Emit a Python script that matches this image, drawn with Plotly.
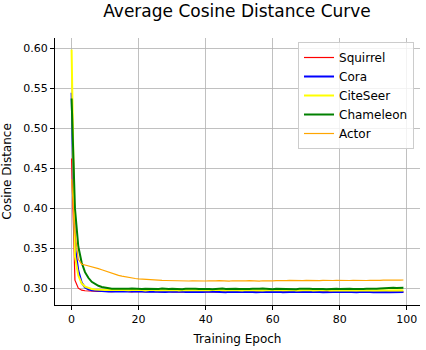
import plotly.graph_objects as go

epochs = list(range(100))

squirrel = [0.462, 0.310, 0.300, 0.2975, 0.2968, 0.2965, 0.2962, 0.2966, 0.2960, 0.2963,
            0.2958, 0.2961, 0.2957, 0.2960, 0.2956, 0.2959, 0.2962, 0.2957, 0.2955, 0.2960,
            0.2958, 0.2954, 0.2959, 0.2956, 0.2961, 0.2955, 0.2958, 0.2953, 0.2957, 0.2960,
            0.2954, 0.2956, 0.2952, 0.2958, 0.2955, 0.2953, 0.2957, 0.2954, 0.2959, 0.2952,
            0.2956, 0.2953, 0.2957, 0.2951, 0.2955, 0.2958, 0.2952, 0.2956, 0.2954, 0.2950,
            0.2955, 0.2957, 0.2952, 0.2954, 0.2951, 0.2956, 0.2953, 0.2958, 0.2951, 0.2954,
            0.2952, 0.2956, 0.2950, 0.2955, 0.2953, 0.2951, 0.2957, 0.2952, 0.2954, 0.2950,
            0.2955, 0.2952, 0.2956, 0.2951, 0.2953, 0.2949, 0.2954, 0.2952, 0.2956, 0.2950,
            0.2953, 0.2951, 0.2955, 0.2949, 0.2952, 0.2954, 0.2950, 0.2953, 0.2951, 0.2955,
            0.2950, 0.2952, 0.2949, 0.2953, 0.2951, 0.2954, 0.2950, 0.2952, 0.2951, 0.2952]

cora = [0.544, 0.352, 0.322, 0.307, 0.301, 0.2985, 0.2975, 0.2970, 0.2968, 0.2965,
        0.2963, 0.2960, 0.2964, 0.2959, 0.2961, 0.2957, 0.2960, 0.2962, 0.2956, 0.2959,
        0.2961, 0.2957, 0.2955, 0.2960, 0.2958, 0.2954, 0.2957, 0.2959, 0.2953, 0.2956,
        0.2958, 0.2952, 0.2955, 0.2957, 0.2951, 0.2956, 0.2954, 0.2952, 0.2957, 0.2953,
        0.2955, 0.2951, 0.2954, 0.2956, 0.2952, 0.2955, 0.2950, 0.2954, 0.2957, 0.2952,
        0.2953, 0.2955, 0.2951, 0.2956, 0.2953, 0.2950, 0.2954, 0.2952, 0.2956, 0.2951,
        0.2954, 0.2952, 0.2955, 0.2950, 0.2953, 0.2956, 0.2951, 0.2954, 0.2952, 0.2955,
        0.2950, 0.2953, 0.2951, 0.2955, 0.2952, 0.2950, 0.2954, 0.2951, 0.2953, 0.2955,
        0.2950, 0.2952, 0.2954, 0.2951, 0.2953, 0.2950, 0.2952, 0.2955, 0.2951, 0.2953,
        0.2950, 0.2952, 0.2954, 0.2951, 0.2953, 0.2950, 0.2952, 0.2951, 0.2953, 0.2951]

citeseer = [0.598, 0.340, 0.316, 0.306, 0.302, 0.3000, 0.2990, 0.2985, 0.2980, 0.2978,
            0.2976, 0.2979, 0.2974, 0.2977, 0.2980, 0.2975, 0.2978, 0.2973, 0.2976, 0.2979,
            0.2974, 0.2977, 0.2972, 0.2976, 0.2979, 0.2973, 0.2975, 0.2978, 0.2972, 0.2976,
            0.2974, 0.2978, 0.2971, 0.2975, 0.2977, 0.2973, 0.2976, 0.2972, 0.2978, 0.2974,
            0.2971, 0.2975, 0.2977, 0.2972, 0.2976, 0.2974, 0.2970, 0.2975, 0.2978, 0.2973,
            0.2975, 0.2971, 0.2976, 0.2974, 0.2977, 0.2972, 0.2975, 0.2970, 0.2974, 0.2977,
            0.2972, 0.2975, 0.2973, 0.2976, 0.2971, 0.2974, 0.2977, 0.2972, 0.2975, 0.2970,
            0.2974, 0.2976, 0.2972, 0.2975, 0.2971, 0.2973, 0.2976, 0.2970, 0.2974, 0.2972,
            0.2975, 0.2971, 0.2973, 0.2976, 0.2970, 0.2974, 0.2972, 0.2975, 0.2971, 0.2973,
            0.2970, 0.2974, 0.2972, 0.2975, 0.2971, 0.2973, 0.2970, 0.2972, 0.2974, 0.2971]

chameleon = [0.537, 0.400, 0.352, 0.332, 0.320, 0.313, 0.308, 0.305, 0.303, 0.3015,
             0.3005, 0.2998, 0.2994, 0.2992, 0.2990, 0.2993, 0.2989, 0.2992, 0.2995, 0.2990,
             0.2993, 0.2989, 0.2994, 0.2991, 0.2988, 0.2993, 0.2990, 0.2995, 0.2991, 0.2989,
             0.2993, 0.2990, 0.2994, 0.2988, 0.2992, 0.2995, 0.2990, 0.2993, 0.2989, 0.2992,
             0.2994, 0.2990, 0.2988, 0.2993, 0.2991, 0.2995, 0.2989, 0.2992, 0.2990, 0.2994,
             0.2991, 0.2988, 0.2993, 0.2990, 0.2994, 0.2989, 0.2992, 0.2995, 0.2990, 0.2993,
             0.2988, 0.2992, 0.2990, 0.2994, 0.2989, 0.2993, 0.2991, 0.2988, 0.2992, 0.2995,
             0.2990, 0.2993, 0.2989, 0.2992, 0.2994, 0.2990, 0.2988, 0.2993, 0.2991, 0.2994,
             0.2989, 0.2992, 0.2990, 0.2994, 0.2991, 0.2989, 0.2993, 0.2990, 0.2994, 0.2992,
             0.2995, 0.2993, 0.2997, 0.3001, 0.3004, 0.3002, 0.3005, 0.3003, 0.3006, 0.3004]

actor = [0.436, 0.370, 0.336, 0.330, 0.329, 0.328, 0.327, 0.326, 0.3245, 0.3230,
         0.3215, 0.3200, 0.3185, 0.3172, 0.3160, 0.3150, 0.3141, 0.3133, 0.3126, 0.3121,
         0.3116, 0.3112, 0.3109, 0.3106, 0.3104, 0.3101, 0.3099, 0.3097, 0.3096, 0.3094,
         0.3095, 0.3092, 0.3094, 0.3091, 0.3093, 0.3090, 0.3093, 0.3091, 0.3089, 0.3092,
         0.3090, 0.3093, 0.3089, 0.3091, 0.3094, 0.3090, 0.3092, 0.3089, 0.3093, 0.3091,
         0.3090, 0.3093, 0.3091, 0.3094, 0.3090, 0.3092, 0.3089, 0.3093, 0.3091, 0.3094,
         0.3092, 0.3095, 0.3093, 0.3096, 0.3094, 0.3097, 0.3095, 0.3093, 0.3096, 0.3094,
         0.3097, 0.3095, 0.3098, 0.3096, 0.3094, 0.3097, 0.3095, 0.3098, 0.3096, 0.3099,
         0.3097, 0.3095, 0.3098, 0.3096, 0.3099, 0.3097, 0.3100, 0.3098, 0.3096, 0.3099,
         0.3097, 0.3100, 0.3098, 0.3101, 0.3099, 0.3100, 0.3102, 0.3100, 0.3101, 0.3102]

series_names = ["Squirrel", "Cora", "CiteSeer", "Chameleon", "Actor"]
series_values = [squirrel, cora, citeseer, chameleon, actor]
series_colors = ["red", "blue", "yellow", "green", "orange"]
series_widths = [1.2, 2, 2, 2, 1.2]

x_ticks = [0, 20, 40, 60, 80, 100]
y_ticks = [0.30, 0.35, 0.40, 0.45, 0.50, 0.55, 0.60]

FONT = "DejaVu Sans, sans-serif"
W, H = 426, 350

fig = go.Figure()
for name, vals, col, w in zip(series_names, series_values, series_colors, series_widths):
    fig.add_trace(go.Scatter(x=epochs, y=vals, mode="lines", name=name,
                             line=dict(color=col, width=w), hoverinfo="skip"))

axis_common = dict(
    showline=True, linecolor="black", linewidth=1, mirror=False,
    showgrid=True, gridcolor="#b0b0b0", gridwidth=0.8,
    ticks="outside", ticklen=4, tickcolor="black", tickwidth=1,
    zeroline=False, tickfont=dict(family=FONT, size=11, color="black"),
)

fig.update_layout(
    width=W, height=H,
    margin=dict(l=54, r=6, t=37.5, b=40),
    paper_bgcolor="white", plot_bgcolor="white",
    font=dict(family=FONT, color="black"),
    hovermode=False,
    title=dict(text="Average Cosine Distance Curve", x=237/W, xanchor="center",
               y=1 - 11/H, yanchor="middle",
               font=dict(family=FONT, size=17, color="black")),
    xaxis=dict(range=[-4.95, 103.95], tickvals=x_ticks,
               title=dict(text="Training Epoch", font=dict(family=FONT, size=12), standoff=9),
               **axis_common),
    yaxis=dict(range=[0.2790, 0.6125], tickvals=y_ticks, tickformat=".2f",
               title=dict(text="Cosine Distance", font=dict(family=FONT, size=12), standoff=9),
               **axis_common),
    legend=dict(x=0.9836, xanchor="right", y=0.985, yanchor="top",
                bgcolor="rgba(255,255,255,0.8)", bordercolor="#cccccc", borderwidth=1,
                font=dict(family=FONT, size=12, color="black"),
                tracegroupgap=0, itemwidth=30),
    showlegend=True,
)

fig.write_html("out.html",
               config={"displayModeBar": False, "staticPlot": True},
               post_script="document.body.style.margin='0';document.body.style.overflow='hidden';")
